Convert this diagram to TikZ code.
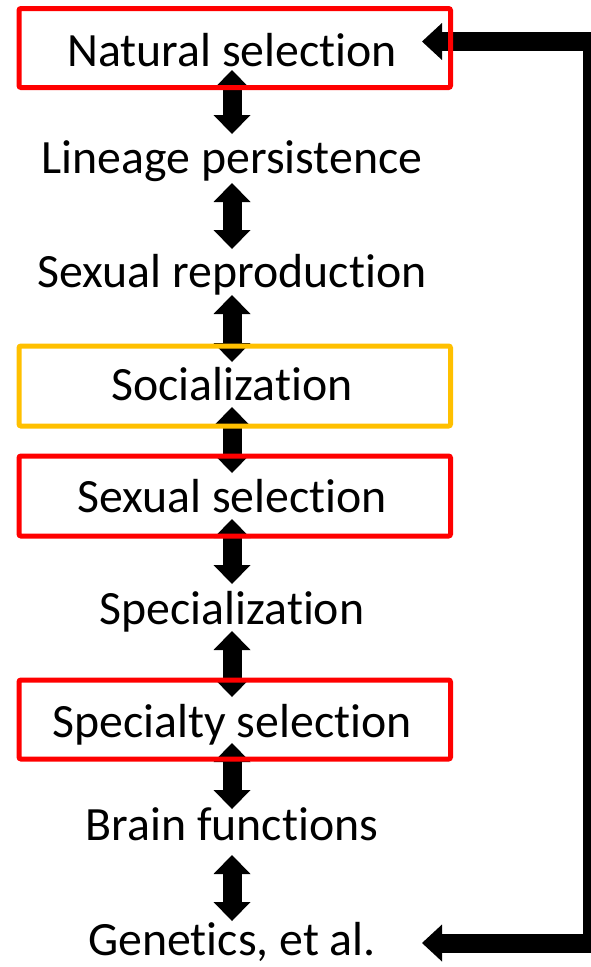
\documentclass[tikz,border=0pt]{standalone}
\usepackage{fontspec}
\setmainfont{Carlito}[Ligatures={NoCommon}]
\usetikzlibrary{arrows.meta}

\definecolor{boxred}{HTML}{FF0000}
\definecolor{boxgold}{HTML}{FFC000}

\tikzset{
  label text/.style={inner sep=0pt, anchor=base,
    font=\fontsize{47.8}{57}\selectfont},
  frame/.style={draw, line width=5pt, rounded corners=2pt,
    minimum width=431.5pt, inner sep=0pt, fill=none},
  redframe/.style={frame, draw=boxred},
  goldframe/.style={frame, draw=boxgold},
  link/.style={line width=19pt,
    {Triangle[length=19pt,width=37pt,line width=0pt]}-{Triangle[length=19pt,width=37pt,line width=0pt]}},
  feedback/.style={line width=19pt, miter limit=10,
    {Triangle[length=20pt,width=37pt,line width=0pt]}-{Triangle[length=20pt,width=37pt,line width=0pt]}}
}

\begin{document}
\begin{tikzpicture}[x=1pt,y=-1pt]
  \useasboundingbox (0,0) rectangle (590,967);

  % stage labels (placed on their baselines)
  \node[label text] (ns)  at (232,66)  {Natural selection};
  \node[label text] (lp)  at (232,173) {Lineage persistence};
  \node[label text] (sr)  at (232,287) {Sexual reproduction};
  \node[label text] (soc) at (232,400) {Socialization};
  \node[label text] (ss)  at (232,512) {Sexual selection};
  \node[label text] (sp)  at (232,624) {Specialization};
  \node[label text] (sps) at (232,737) {Specialty selection};
  \node[label text] (bf)  at (232,840) {Brain functions};
  \node[label text] (gen) at (232,955) {Genetics, et al.};

  % two-way links between consecutive stages
  \draw[link, shorten <=4pt,  shorten >=39pt] (ns.base)  -- (lp.base);
  \draw[link, shorten <=10pt, shorten >=38pt] (lp.base)  -- (sr.base);
  \draw[link, shorten <=8pt,  shorten >=38pt] (sr.base)  -- (soc.base);
  \draw[link, shorten <=7pt,  shorten >=39pt] (soc.base) -- (ss.base);
  \draw[link, shorten <=7pt,  shorten >=40pt] (ss.base)  -- (sp.base);
  \draw[link, shorten <=7pt,  shorten >=40pt] (sp.base)  -- (sps.base);
  \draw[link, shorten <=6pt,  shorten >=31pt] (sps.base) -- (bf.base);
  \draw[link, shorten <=15pt, shorten >=34pt] (bf.base)  -- (gen.base);

  % feedback loop from genetics back to natural selection
  \coordinate (fbtop) at (422,41.5);
  \coordinate (fbbot) at (422,943);
  \coordinate (rail)  at (592.5,0);
  \draw[feedback] (fbtop) -- (fbtop -| rail) -- (fbbot -| rail) -- (fbbot);

  % frames around the selection stages
  \node[redframe,  minimum height=79pt] (nsbox)  at (234.75,48)   {};
  \node[goldframe, minimum height=80pt] (socbox) at (234.75,386)  {};
  \node[redframe,  minimum height=80pt] (ssbox)  at (234.75,496)  {};
  \node[redframe,  minimum height=79pt] (spsbox) at (234.75,719.5) {};
\end{tikzpicture}
\end{document}
